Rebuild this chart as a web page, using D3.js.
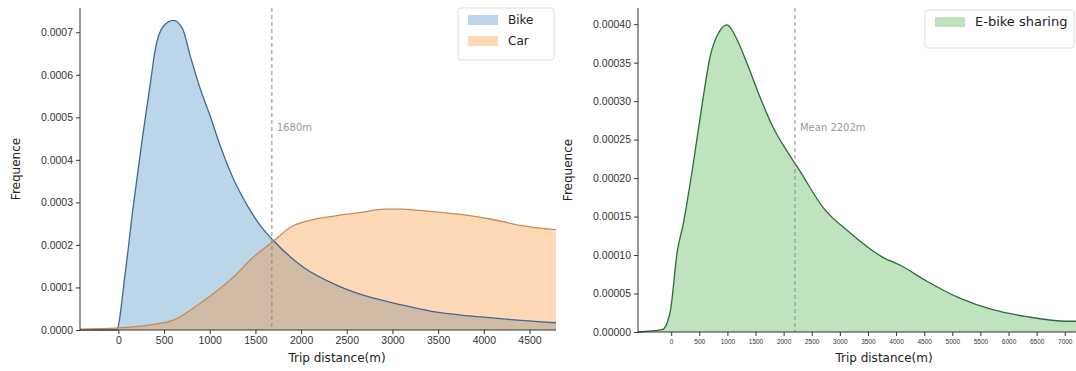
<!DOCTYPE html>
<html>
<head>
<meta charset="utf-8">
<script src="https://cdn.jsdelivr.net/npm/d3@7"></script>
<style>
  body { margin: 0; background: #fff; }
  svg { display: block; font-family: "DejaVu Sans", sans-serif; }
  .axis text { fill: #333; }
  .axis path, .axis line { stroke: #333; }
</style>
</head>
<body>
<svg id="chart" width="1076" height="371"></svg>
<script>
// left panel: bike vs car trip distance density
var bikeDist = [-420, -20, 76, 164, 262, 350, 404, 492, 601, 699, 787, 896, 1005, 1115, 1257, 1410, 1552, 1694, 2022, 2393, 2754, 3115, 3486, 3847, 4208, 4790];
var bikeFreq = [0, 0, 0.000136, 0.000293, 0.00045, 0.00058, 0.00066, 0.000714, 0.000728, 0.00071, 0.000644, 0.000567, 0.000503, 0.000433, 0.000356, 0.000293, 0.000246, 0.000211, 0.000148, 0.000105, 0.000077, 0.0000585, 0.000042, 0.000033, 0.000026, 0.000017];

var carDist = [-420, 0, 350, 600, 896, 1257, 1475, 1694, 1880, 2098, 2393, 2678, 2900, 3100, 3301, 3552, 3847, 4142, 4393, 4790];
var carFreq = [0.000002, 0.000005, 0.000012, 0.000023, 0.000063, 0.000124, 0.000171, 0.000208, 0.000241, 0.000258, 0.000269, 0.000277, 0.000284, 0.000284, 0.000281, 0.000276, 0.000269, 0.000258, 0.000246, 0.000236];

// right panel: e-bike sharing
var ebikeDist = [-590, -160, -18, 107, 213, 391, 551, 693, 870, 995, 1137, 1350, 1581, 1812, 2060, 2291, 2700, 3180, 3766, 4067, 4547, 5133, 5719, 6323, 7034, 7200];
var ebikeFreq = [0, 0.000003, 0.000026, 0.000104, 0.00014, 0.000218, 0.000296, 0.000358, 0.000392, 0.000399, 0.000385, 0.000349, 0.000305, 0.000266, 0.000235, 0.000209, 0.000162, 0.000129, 0.000097, 0.000087, 0.000066, 0.000044, 0.000029, 0.00002, 0.000014, 0.000014];

var leftXTicks = [0, 500, 1000, 1500, 2000, 2500, 3000, 3500, 4000, 4500];
var leftYTicks = [0, 0.0001, 0.0002, 0.0003, 0.0004, 0.0005, 0.0006, 0.0007];
var rightXTicks = [0, 500, 1000, 1500, 2000, 2500, 3000, 3500, 4000, 4500, 5000, 5500, 6000, 6500, 7000];
var rightYTicks = [0, 0.00005, 0.0001, 0.00015, 0.0002, 0.00025, 0.0003, 0.00035, 0.0004];

var leftMarker = 1680, leftMarkerLabel = '1680m';
var rightMarker = 2202, rightMarkerLabel = 'Mean 2202m';

function zip(xs, ys) {
  return xs.map(function(d, i) { return { d: d, f: ys[i] }; });
}

var svg = d3.select('#chart');

function panel(opts) {
  var x = d3.scaleLinear().domain(opts.xDomain).range([opts.left, opts.right]),
      y = d3.scaleLinear().domain(opts.yDomain).range([opts.bottom, opts.top]);

  var g = svg.append('g');

  var area = d3.area()
      .curve(d3.curveMonotoneX)
      .x(function(p) { return x(p.d); })
      .y0(y(0))
      .y1(function(p) { return y(p.f); });
  var line = d3.line()
      .curve(d3.curveMonotoneX)
      .x(function(p) { return x(p.d); })
      .y(function(p) { return y(p.f); });

  opts.series.forEach(function(s) {
    g.append('path')
      .datum(s.data)
      .attr('d', area)
      .attr('fill', s.color)
      .attr('fill-opacity', 0.3);
  });
  opts.series.forEach(function(s) {
    g.append('path')
      .datum(s.data)
      .attr('d', line)
      .attr('fill', 'none')
      .attr('stroke', s.line)
      .attr('stroke-width', 1.3);
  });

  // dashed marker
  g.append('line')
    .attr('x1', x(opts.marker)).attr('x2', x(opts.marker))
    .attr('y1', opts.top).attr('y2', opts.bottom)
    .attr('stroke', '#888')
    .attr('stroke-width', 1)
    .attr('stroke-dasharray', '4,3');
  g.append('text')
    .attr('x', x(opts.marker) + 5)
    .attr('y', opts.markerY)
    .attr('font-size', 10)
    .attr('fill', '#999')
    .text(opts.markerLabel);

  var xAxis = d3.axisBottom(x).tickValues(opts.xTicks).tickSize(4).tickSizeOuter(0)
      .tickFormat(d3.format('d'));
  var yAxis = d3.axisLeft(y).tickValues(opts.yTicks).tickSize(4).tickSizeOuter(0)
      .tickFormat(d3.format(opts.yFormat));

  var gx = g.append('g')
    .attr('class', 'axis')
    .attr('transform', 'translate(0,' + opts.bottom + ')')
    .call(xAxis);
  gx.selectAll('text').attr('font-size', opts.xFont);
  gx.select('.domain').attr('d', 'M' + opts.left + ',0H' + opts.right);

  var gy = g.append('g')
    .attr('class', 'axis')
    .attr('transform', 'translate(' + opts.left + ',0)')
    .call(yAxis);
  gy.selectAll('text').attr('font-size', opts.yFont);
  gy.select('.domain').attr('d', 'M0,' + opts.top + 'V' + opts.bottom);

  g.append('text')
    .attr('x', (opts.left + opts.right) / 2 + opts.xLabelShift)
    .attr('y', 362)
    .attr('text-anchor', 'middle')
    .attr('font-size', 12)
    .attr('fill', '#222')
    .text('Trip distance(m)');
  g.append('text')
    .attr('transform', 'translate(' + opts.yLabelX + ',' + ((opts.top + opts.bottom) / 2) + ') rotate(-90)')
    .attr('text-anchor', 'middle')
    .attr('font-size', 12)
    .attr('fill', '#222')
    .text('Frequence');

  // legend
  var lg = g.append('g').attr('transform', 'translate(' + opts.legend.x + ',' + opts.legend.y + ')');
  lg.append('rect')
    .attr('width', opts.legend.w)
    .attr('height', opts.legend.h)
    .attr('rx', 3)
    .attr('fill', '#fff')
    .attr('fill-opacity', 0.8)
    .attr('stroke', '#ddd');
  opts.series.forEach(function(s, i) {
    lg.append('rect')
      .attr('x', 10).attr('y', 12 + i * 21 - 5)
      .attr('width', 30).attr('height', 10)
      .attr('fill', s.color).attr('fill-opacity', 0.3);
    lg.append('text')
      .attr('x', 50).attr('y', 12 + i * 21 + 4)
      .attr('font-size', opts.legend.font)
      .attr('fill', '#222')
      .text(s.name);
  });
}

panel({
  left: 80, right: 556, top: 8, bottom: 330,
  xDomain: [-420, 4790], yDomain: [0, 0.000757],
  xTicks: leftXTicks, yTicks: leftYTicks, yFormat: '.4f',
  xFont: 10.5, yFont: 10.5,
  marker: leftMarker, markerLabel: leftMarkerLabel, markerY: 131,
  xLabelShift: 19, yLabelX: 20,
  series: [
    { name: 'Bike', data: zip(bikeDist, bikeFreq), color: '#1f77b4', line: '#3d6a96' },
    { name: 'Car', data: zip(carDist, carFreq), color: '#ff7f0e', line: '#c98a5a' }
  ],
  legend: { x: 458, y: 8, w: 96, h: 52, font: 12 }
});

panel({
  left: 638, right: 1076, top: 8, bottom: 332,
  xDomain: [-590, 7200], yDomain: [0, 0.000421],
  xTicks: rightXTicks, yTicks: rightYTicks, yFormat: '.5f',
  xFont: 6.5, yFont: 10.5,
  marker: rightMarker, markerLabel: rightMarkerLabel, markerY: 131,
  xLabelShift: 27, yLabelX: 572,
  series: [
    { name: 'E-bike sharing', data: zip(ebikeDist, ebikeFreq), color: '#2ca02c', line: '#2d6a3d' }
  ],
  legend: { x: 925, y: 10, w: 149, h: 38, font: 13 }
});
</script>
</body>
</html>
